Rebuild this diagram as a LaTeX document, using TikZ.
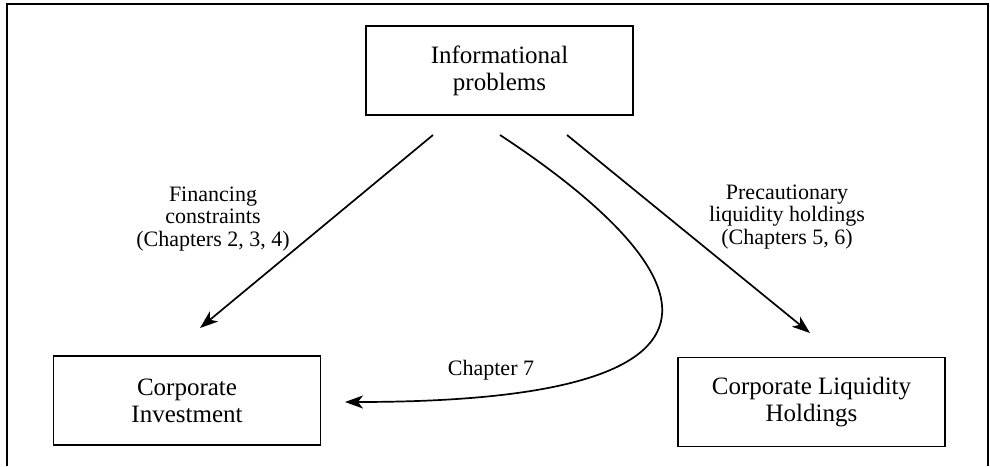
\documentclass[tikz,border=0pt]{standalone}
\usepackage{fontspec}
\setmainfont{Liberation Serif}
\usetikzlibrary{arrows.meta}
\begin{document}
\begin{tikzpicture}[x=1pt,y=-1pt,
  box/.style={draw, line width=1.7pt, minimum width=267pt, minimum height=89pt, inner sep=0pt, align=center, font=\fontsize{25}{27}\selectfont},
  lbl/.style={align=center, inner sep=0pt, font=\fontsize{22}{22.5}\selectfont},
  arr/.style={line width=1.7pt, -{Stealth[length=18pt,width=13pt,inset=5pt]}}]
\useasboundingbox (0,0) rectangle (990,466);
\draw[line width=1.6pt] (7,466) -- (7,4) -- (988,4) -- (988,466);
\node[box] (info) at (499.5,70.5) {Informational\\problems};
\node[box] (inv) at (187,400.5) {Corporate\\Investment};
\node[box] (liq) at (811.5,402) {Corporate Liquidity\\Holdings};
\coordinate (s1) at (433,135);
\coordinate (e1) at (200,328);
\coordinate (s2) at (500,135);
\coordinate (e2) at (345,402);
\coordinate (s3) at (567,135);
\coordinate (e3) at (810,333);
\draw[arr] (s1) -- (e1);
\draw[arr] (s3) -- (e3);
\draw[arr] (s2) .. controls (660,240) and (820,402) .. (e2);
\node[lbl] (fin) at (213,219) {Financing\\constraints\\(Chapters 2, 3, 4)};
\node[lbl] (pre) at (787,217) {Precautionary\\liquidity holdings\\(Chapters 5, 6)};
\node[lbl] (ch7) at (491,370) {Chapter 7};
\end{tikzpicture}
\end{document}
